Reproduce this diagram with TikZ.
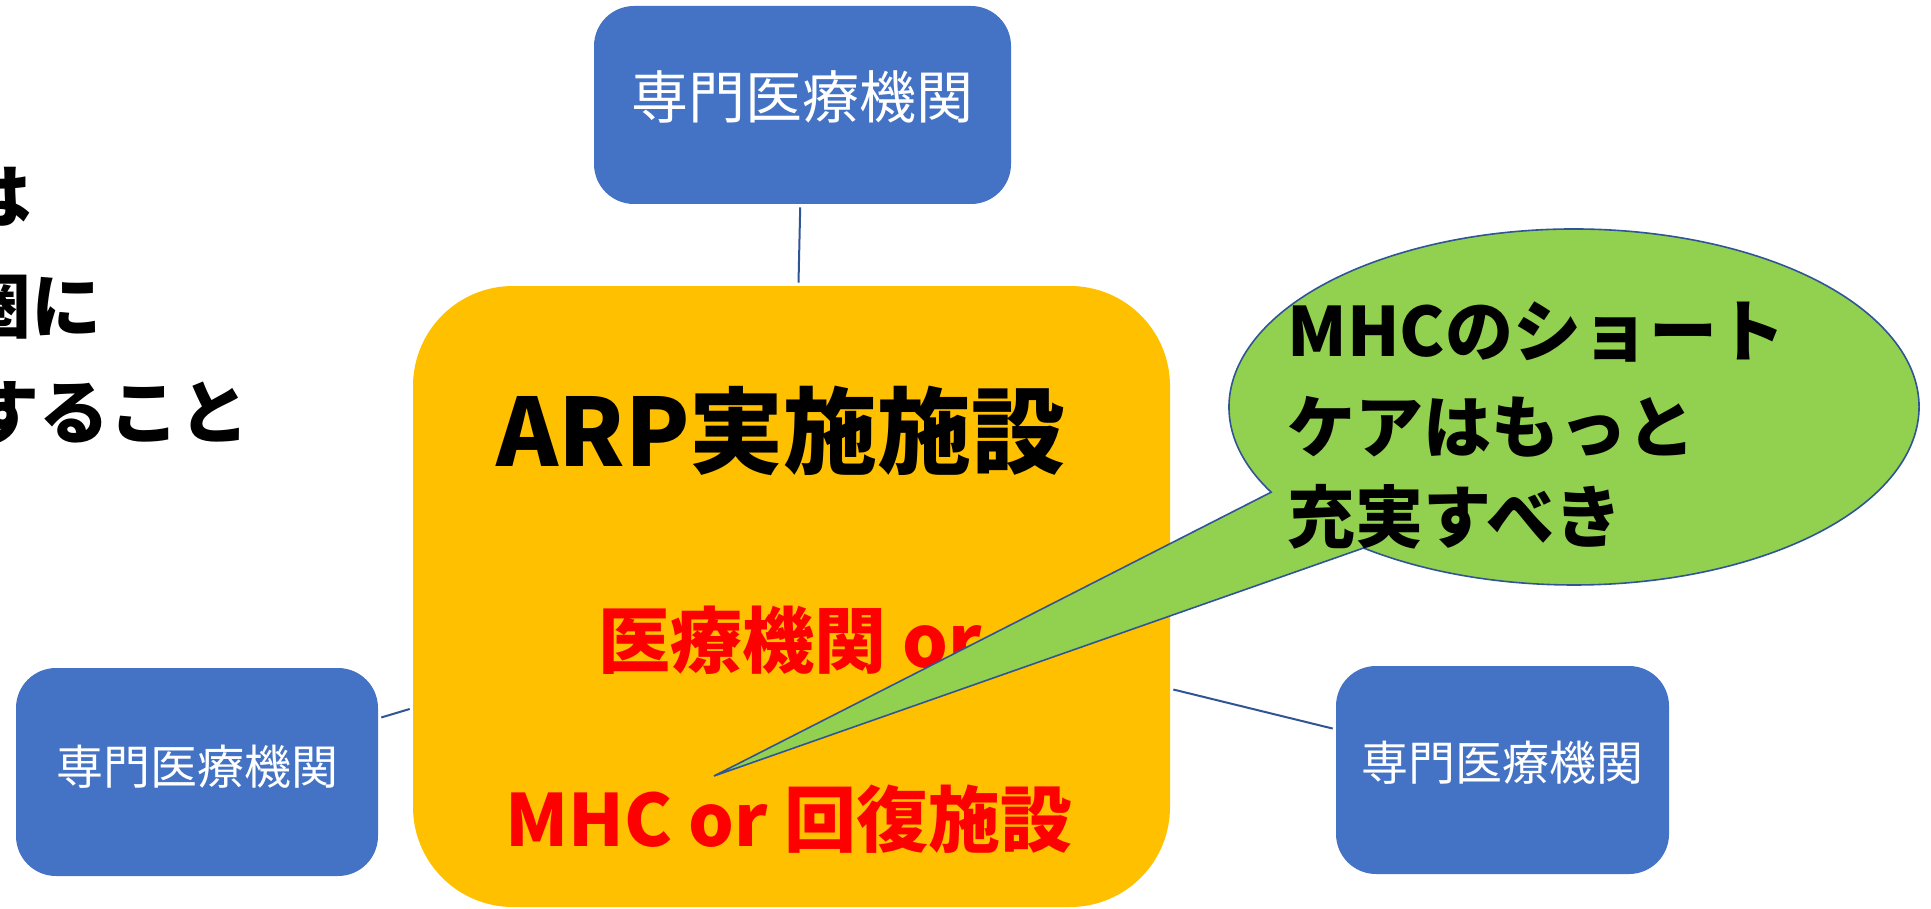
\documentclass[tikz,border=0pt]{standalone}
\usepackage{fontspec}
\newfontfamily\jp{Noto Sans CJK JP}
\definecolor{boxblue}{RGB}{68,114,196}
\definecolor{arpgold}{RGB}{255,192,0}
\definecolor{calloutgreen}{RGB}{146,208,80}
\definecolor{lineblue}{RGB}{47,85,151}
\definecolor{textred}{RGB}{255,0,0}
\begin{document}
\begin{tikzpicture}[x=0.5pt,y=-0.5pt,
  bluebox/.style={fill=boxblue, draw=none, rounded corners=20pt, inner sep=0pt},
  boxtext/.style={text=white, font=\jp\fontsize{#1}{#1}\selectfont, inner sep=0pt},
  arpbox/.style={fill=arpgold, draw=none, rounded corners=50pt, inner sep=0pt},
  titletext/.style={text=black, font=\jp\bfseries\fontsize{47}{47}\selectfont, inner sep=0pt},
  redtext/.style={text=textred, font=\jp\bfseries\fontsize{36}{36}\selectfont, inner sep=0pt},
  cbtext/.style={text=black, font=\jp\bfseries\fontsize{34}{34}\selectfont, inner sep=0pt},
  lefttext/.style={text=black, font=\jp\bfseries\fontsize{35}{35}\selectfont, inner sep=0pt},
  conn/.style={draw=lineblue, line width=1pt, shorten <=1.5pt, shorten >=1.5pt},
  callout/.style={fill=calloutgreen, draw=lineblue, line width=0.8pt, line join=miter}
]
\useasboundingbox (0,0) rectangle (1931,909);
\clip (0,0) rectangle (1931,909);

% left partial text
\node[lefttext, anchor=east] (l1) at (32,197) {は};
\node[lefttext, anchor=east] (l2) at (102,307) {圏に};
\node[lefttext, anchor=east] (l3) at (250,413) {すること};

% boxes
\node[arpbox, minimum width=378.5pt, minimum height=310.5pt] (arp) at (791.5,596.5) {};
\node[bluebox, minimum width=208.5pt, minimum height=99pt,
  label={[boxtext=28.5, yshift=4pt]center:専門医療機関}] (topbox) at (802.5,105) {};
\node[bluebox, minimum width=181pt, minimum height=104pt,
  label={[boxtext=23.5, yshift=2.5pt]center:専門医療機関}] (leftbox) at (197,772) {};
\node[bluebox, minimum width=166.5pt, minimum height=104pt,
  label={[boxtext=23.5, yshift=3.5pt]center:専門医療機関}] (rightbox) at (1502.5,770) {};

% connectors
\draw[conn] (topbox) -- (arp);
\draw[conn] (leftbox) -- (arp);
\draw[conn] (rightbox) -- (arp);

% texts in ARP box
\node[titletext] (arptitle) at (781,431) {ARP実施施設};
\node[redtext] (medical) at (790,640) {医療機関 or};
\node[redtext] (mhc) at (789,819) {MHC or 回復施設};

% callout
\coordinate (ec) at (1574,407);
\coordinate (tip) at (714,776);
\path[callout] (ec) ++(151.4:345 and 178)
  arc[start angle=151.4, end angle=487.6, x radius=345, y radius=178]
  -- (tip) -- cycle;
\node[cbtext, anchor=west] (c1) at (1287,332) {MHCのショート};
\node[cbtext, anchor=west] (c2) at (1287,427) {ケアはもっと};
\node[cbtext, anchor=west] (c3) at (1287,517) {充実すべき};
\end{tikzpicture}
\end{document}
